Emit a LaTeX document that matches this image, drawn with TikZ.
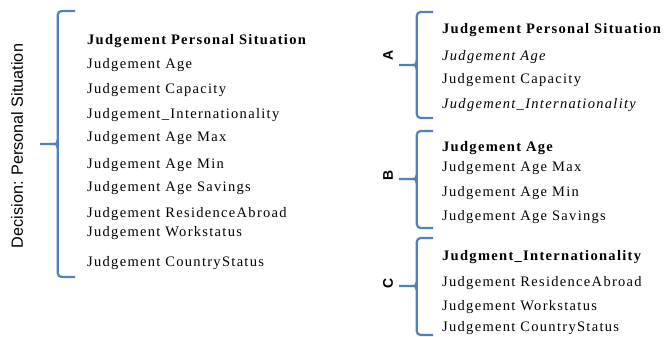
\documentclass[tikz,border=0pt]{standalone}
\usepackage{fontspec}
\setmainfont{Liberation Serif}[LetterSpace=9]
\newfontfamily\labelfont{Liberation Sans}
\definecolor{bracecol}{HTML}{4F81BD}
\newcommand\mybrace[6]{% x, ytop, ymid, ybot, tipx, hookx
  \draw[bracestyle,rounded corners=4pt] (#6,#2) -- (#1,#2) -- (#1,#4) -- (#6,#4);
  \draw[bracestyle] (#5,#3) -- ({#1-5},#3) .. controls ({#1-1},#3) .. (#1,{#3-4});
  \draw[bracestyle] ({#1-5},#3) .. controls ({#1-1},#3) .. (#1,{#3+4});
}
\begin{document}
\begin{tikzpicture}[x=1pt,y=-1pt,
  bracestyle/.style={draw=bracecol,line width=2.2pt},
  item/.style={anchor=base west,inner sep=0pt,font=\fontsize{14.5}{16}\selectfont},
  bolditem/.style={item,font=\fontsize{14.5}{16}\selectfont\bfseries},
  ititem/.style={item,font=\fontsize{14.5}{16}\selectfont\itshape},
  letter/.style={rotate=90,inner sep=0pt,font=\labelfont\fontsize{14}{16}\selectfont\bfseries}]
\useasboundingbox (0,0) rectangle (664,337);
% left
\mybrace{57.7}{11}{144}{277}{40}{75}
\node[rotate=90,inner sep=0pt,font=\labelfont\fontsize{16.2}{18}\selectfont] (dec) at (17,146) {Decision: Personal Situation};
\node[bolditem] (l1) at (87,45) {Judgement Personal Situation};
\node[item] (l2) at (87,68.3) {Judgement Age};
\node[item] (l3) at (87,93.3) {Judgement Capacity};
\node[item] (l4) at (87,118.3) {Judgement\_Internationality};
\node[item] (l5) at (87,141.7) {Judgement Age Max};
\node[item] (l6) at (87,168) {Judgement Age Min};
\node[item] (l7) at (87,191.7) {Judgement Age Savings};
\node[item] (l8) at (87,217.3) {Judgement ResidenceAbroad};
\node[item] (l9) at (87,236.7) {Judgement Workstatus};
\node[item] (l10) at (87,266) {Judgement CountryStatus};
% right A
\mybrace{416.7}{12}{65}{118}{399}{433}
\node[letter] (A) at (388,55) {A};
\node[bolditem] (a1) at (442,33.3) {Judgement Personal Situation};
\node[ititem] (a2) at (442,60) {Judgement Age};
\node[item] (a3) at (442,83.3) {Judgement Capacity};
\node[ititem] (a4) at (442,108.3) {Judgement\_Internationality};
% right B
\mybrace{416.7}{131}{179}{228}{399}{433}
\node[letter] (B) at (388,175) {B};
\node[bolditem] (b1) at (442,151.7) {Judgement Age};
\node[item] (b2) at (442,171.7) {Judgement Age Max};
\node[item] (b3) at (442,196.7) {Judgement Age Min};
\node[item] (b4) at (442,220) {Judgement Age Savings};
% right C
\mybrace{416.7}{238}{286}{335}{399}{433}
\node[letter] (C) at (388,283) {C};
\node[bolditem] (c1) at (442,260) {Judgment\_Internationality};
\node[item] (c2) at (442,286.7) {Judgement ResidenceAbroad};
\node[item] (c3) at (442,310) {Judgement Workstatus};
\node[item] (c4) at (442,331.7) {Judgement CountryStatus};
\end{tikzpicture}
\end{document}
